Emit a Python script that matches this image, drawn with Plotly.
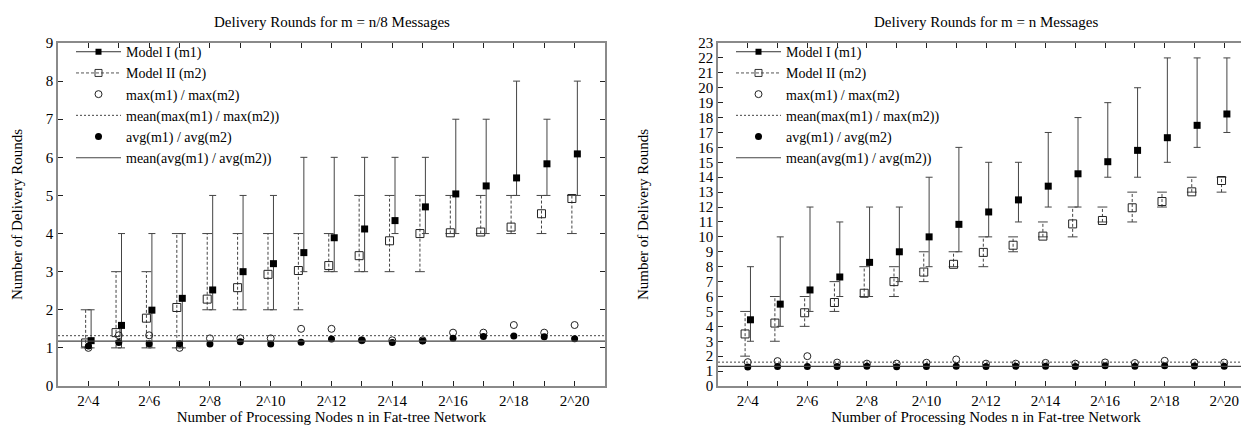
import plotly.graph_objects as go

# ---------------- data ----------------
exponents = list(range(4, 21))
tick_text = [f"2^{e}" if e % 2 == 0 else "" for e in exponents]

# Left panel: m = n/8 messages
L_m1_avg = [1.19, 1.59, 1.99, 2.30, 2.52, 3.00, 3.21, 3.50, 3.89, 4.12, 4.34, 4.70, 5.04, 5.25, 5.46, 5.83, 6.09]
L_m1_min = [1, 1, 1, 1, 2, 2, 2, 3, 3, 3, 4, 4, 4, 4, 5, 5, 5]
L_m1_max = [2, 4, 4, 4, 5, 5, 5, 6, 6, 6, 6, 6, 7, 7, 8, 7, 8]
L_m2_avg = [1.13, 1.40, 1.78, 2.06, 2.28, 2.58, 2.93, 3.03, 3.16, 3.42, 3.81, 4.00, 4.02, 4.04, 4.17, 4.52, 4.92]
L_m2_min = [1, 1, 1, 1, 2, 2, 2, 2, 3, 3, 3, 3, 4, 4, 4, 4, 4]
L_m2_max = [2, 3, 3, 4, 4, 4, 4, 4, 4, 5, 5, 5, 5, 5, 5, 5, 5]
L_max_ratio = [1.00, 1.33, 1.33, 1.00, 1.25, 1.25, 1.25, 1.50, 1.50, 1.20, 1.20, 1.20, 1.40, 1.40, 1.60, 1.40, 1.60]
L_avg_ratio = [1.05, 1.14, 1.11, 1.11, 1.10, 1.16, 1.10, 1.15, 1.23, 1.20, 1.14, 1.18, 1.25, 1.30, 1.31, 1.29, 1.24]
L_mean_max = 1.32
L_mean_avg = 1.18

# Right panel: m = n messages
R_m1_avg = [4.44, 5.49, 6.44, 7.31, 8.29, 9.00, 10.00, 10.84, 11.67, 12.48, 13.40, 14.23, 15.04, 15.80, 16.65, 17.48, 18.24]
R_m1_min = [3, 4, 5, 6, 6, 7, 8, 9, 10, 11, 12, 12, 14, 14, 15, 16, 17]
R_m1_max = [8, 10, 12, 11, 12, 12, 14, 16, 15, 15, 17, 18, 19, 20, 22, 22, 22]
R_m2_avg = [3.49, 4.22, 4.91, 5.60, 6.22, 7.00, 7.64, 8.16, 8.96, 9.44, 10.05, 10.87, 11.10, 11.95, 12.37, 13.02, 13.78]
R_m2_min = [2, 3, 4, 5, 6, 6, 7, 8, 8, 9, 10, 10, 11, 11, 12, 13, 13]
R_m2_max = [5, 6, 6, 7, 8, 8, 9, 9, 10, 10, 11, 12, 12, 13, 13, 14, 14]
R_max_ratio = [1.60, 1.67, 2.00, 1.57, 1.50, 1.50, 1.56, 1.78, 1.50, 1.50, 1.55, 1.50, 1.58, 1.54, 1.69, 1.57, 1.57]
R_avg_ratio = [1.27, 1.30, 1.31, 1.31, 1.33, 1.29, 1.31, 1.33, 1.30, 1.32, 1.33, 1.31, 1.35, 1.32, 1.35, 1.34, 1.32]
R_mean_max = 1.60
R_mean_avg = 1.32

titles = ["Delivery Rounds for m = n/8 Messages", "Delivery Rounds for m = n Messages"]
x_title = "Number of Processing Nodes n in Fat-tree Network"
y_title = "Number of Delivery Rounds"
names = ["Model I (m1)", "Model II (m2)", "max(m1) / max(m2)",
         "mean(max(m1) / max(m2))", "avg(m1) / avg(m2)", "mean(avg(m1) / avg(m2))"]

# ---------------- style ----------------
FONT = "'Liberation Serif', 'Times New Roman', Times, serif"
W, H = 1249, 430
X_RANGE = [3, 21]
OFF = 0.09
domains = [[50 / W, 597 / W], [710 / W, 1246 / W]]
y_ranges = [[0, 9], [0, 23]]
y_standoff = [20, 46]
legend_x = [63 / W, 723 / W]

fig = go.Figure()


def add_panel(i, m1a, m1lo, m1hi, m2a, m2lo, m2hi, mx, av, mean_mx, mean_av):
    xa = "x" if i == 0 else "x2"
    ya = "y" if i == 0 else "y2"
    lg = "legend" if i == 0 else "legend2"
    x1 = [e + OFF for e in exponents]
    x2 = [e - OFF for e in exponents]

    # legend-only samples for the two models
    fig.add_trace(go.Scatter(x=[None], y=[None], mode="lines+markers", name=names[0],
                             line=dict(color="#333", width=1),
                             marker=dict(symbol="square", size=6, color="black"),
                             xaxis=xa, yaxis=ya, legend=lg, legendrank=1))
    fig.add_trace(go.Scatter(x=[None], y=[None], mode="lines+markers", name=names[1],
                             line=dict(color="#555", width=1, dash="3px,2px"),
                             marker=dict(symbol="square-open", size=7, color="#333",
                                         line=dict(width=1)),
                             xaxis=xa, yaxis=ya, legend=lg, legendrank=2))

    # Model II dashed error bars
    sx, sy = [], []
    cx, cy = [], []
    for x, lo, hi in zip(x2, m2lo, m2hi):
        sx += [x, x, None]
        sy += [lo, hi, None]
        cx += [x, x]
        cy += [lo, hi]
    fig.add_trace(go.Scatter(x=sx, y=sy, mode="lines", showlegend=False, hoverinfo="skip",
                             line=dict(color="#444", width=1, dash="3px,2px"),
                             xaxis=xa, yaxis=ya))
    fig.add_trace(go.Scatter(x=cx, y=cy, mode="markers", showlegend=False, hoverinfo="skip",
                             marker=dict(symbol="line-ew", size=7, color="#444",
                                         line=dict(color="#444", width=1)),
                             xaxis=xa, yaxis=ya))
    fig.add_trace(go.Scatter(x=x2, y=m2a, mode="markers", showlegend=False,
                             marker=dict(symbol="square-open", size=8, color="#222",
                                         line=dict(width=1)),
                             xaxis=xa, yaxis=ya))

    # Model I with solid error bars
    fig.add_trace(go.Scatter(x=x1, y=m1a, mode="markers", showlegend=False,
                             marker=dict(symbol="square", size=7, color="black"),
                             error_y=dict(type="data", symmetric=False,
                                          array=[h - a for a, h in zip(m1a, m1hi)],
                                          arrayminus=[a - l for a, l in zip(m1a, m1lo)],
                                          color="#444", thickness=1, width=3.5),
                             xaxis=xa, yaxis=ya))

    # ratios
    fig.add_trace(go.Scatter(x=exponents, y=mx, mode="markers", name=names[2],
                             marker=dict(symbol="circle-open", size=7, color="#222",
                                         line=dict(width=1)),
                             xaxis=xa, yaxis=ya, legend=lg, legendrank=3))
    fig.add_trace(go.Scatter(x=X_RANGE, y=[mean_mx, mean_mx], mode="lines", name=names[3],
                             line=dict(color="#444", width=1, dash="2px,2px"),
                             xaxis=xa, yaxis=ya, legend=lg, legendrank=4))
    fig.add_trace(go.Scatter(x=exponents, y=av, mode="markers", name=names[4],
                             marker=dict(symbol="circle", size=7, color="black"),
                             xaxis=xa, yaxis=ya, legend=lg, legendrank=5))
    fig.add_trace(go.Scatter(x=X_RANGE, y=[mean_av, mean_av], mode="lines", name=names[5],
                             line=dict(color="#444", width=1.2),
                             xaxis=xa, yaxis=ya, legend=lg, legendrank=6))


add_panel(0, L_m1_avg, L_m1_min, L_m1_max, L_m2_avg, L_m2_min, L_m2_max,
          L_max_ratio, L_avg_ratio, L_mean_max, L_mean_avg)
add_panel(1, R_m1_avg, R_m1_min, R_m1_max, R_m2_avg, R_m2_min, R_m2_max,
          R_max_ratio, R_avg_ratio, R_mean_max, R_mean_avg)

axis_common = dict(showline=True, linecolor="#8a8a8a", linewidth=1.5, mirror="ticks",
                   ticks="inside", ticklen=5, tickcolor="#222", tickwidth=1.2,
                   showgrid=False, zeroline=False,
                   tickfont=dict(family=FONT, size=15, color="black"))

for i in range(2):
    sx = "" if i == 0 else "2"
    fig.update_layout(**{
        f"xaxis{sx}": dict(axis_common, domain=domains[i], range=X_RANGE,
                           tickmode="array", tickvals=exponents, ticktext=tick_text,
                           anchor=f"y{sx}",
                           title=dict(text=x_title, standoff=1,
                                      font=dict(family=FONT, size=15, color="black"))),
        f"yaxis{sx}": dict(axis_common, domain=[0, 1], range=y_ranges[i], dtick=1,
                           anchor=f"x{sx}",
                           title=dict(text=y_title, standoff=y_standoff[i],
                                      font=dict(family=FONT, size=15, color="black"))),
    })
    fig.add_annotation(text=titles[i], xref="paper", yref="paper",
                       x=(domains[i][0] + domains[i][1]) / 2, y=1,
                       xanchor="center", yanchor="middle", yshift=21, showarrow=False,
                       borderpad=0,
                       font=dict(family=FONT, size=15, color="black"))

legend_common = dict(bgcolor="rgba(0,0,0,0)", borderwidth=0, tracegroupgap=0,
                     itemwidth=45,
                     font=dict(family=FONT, size=14, color="black"),
                     xanchor="left", yanchor="top", y=1.02)
fig.update_layout(
    width=W, height=H,
    margin=dict(l=0, r=0, t=35, b=52),
    paper_bgcolor="white", plot_bgcolor="white",
    font=dict(family=FONT, size=15, color="black"),
    legend=dict(legend_common, x=legend_x[0]),
    legend2=dict(legend_common, x=legend_x[1]),
)

fig.write_html("out.html")
